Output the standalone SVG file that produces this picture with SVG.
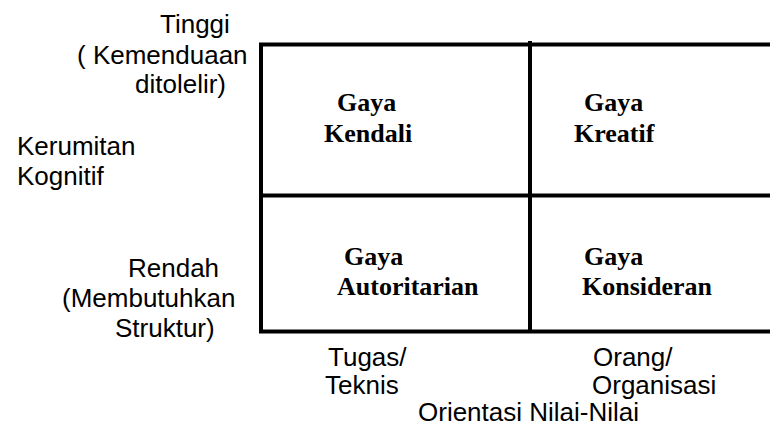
<svg xmlns="http://www.w3.org/2000/svg" width="770" height="434" viewBox="0 0 770 434">
<style>
.s{font-family:"Liberation Sans",Arial,sans-serif;font-size:26px;fill:#000}
.b{font-family:"Liberation Serif","Times New Roman",serif;font-size:26px;font-weight:bold;fill:#000}
.ln{stroke:#000;stroke-width:4;fill:none}
</style>
<rect width="770" height="434" fill="#fff"/>
<g id="grid">
<path class="ln" d="M261 44.5 H772 M261 42.5 V333.5 M259 331.5 H772 M261 195.5 H772 M530 41 V331.5"/>
</g>
<g id="axis-y">
<text class="s" x="160" y="33">Tinggi</text>
<text class="s" x="77" y="64">( Kemenduaan</text>
<text class="s" x="135" y="93">ditolelir)</text>
<text class="s" x="17" y="155">Kerumitan</text>
<text class="s" x="17" y="185">Kognitif</text>
<text class="s" x="128" y="277">Rendah</text>
<text class="s" x="62" y="307">(Membutuhkan</text>
<text class="s" x="115" y="337">Struktur)</text>
</g>
<g id="axis-x">
<text class="s" x="328" y="366">Tugas/</text>
<text class="s" x="325" y="394">Teknis</text>
<text class="s" x="593" y="366">Orang/</text>
<text class="s" x="592" y="394">Organisasi</text>
<text class="s" x="418" y="421">Orientasi Nilai-Nilai</text>
</g>
<g id="kendali">
<text class="b" x="337" y="111">Gaya</text>
<text class="b" x="324" y="142">Kendali</text>
</g>
<g id="kreatif">
<text class="b" x="584" y="111">Gaya</text>
<text class="b" x="574" y="142">Kreatif</text>
</g>
<g id="autoritarian">
<text class="b" x="344" y="265">Gaya</text>
<text class="b" x="337" y="295">Autoritarian</text>
</g>
<g id="konsideran">
<text class="b" x="584" y="265">Gaya</text>
<text class="b" x="582" y="295">Konsideran</text>
</g>
</svg>
